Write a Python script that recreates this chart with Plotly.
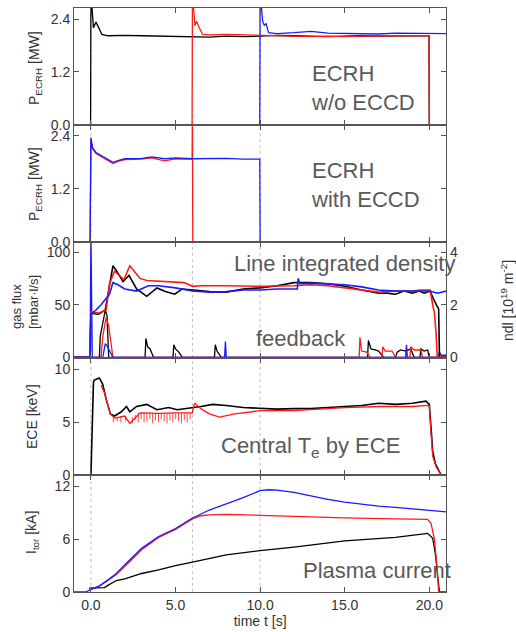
import plotly.graph_objects as go
from plotly.subplots import make_subplots

# ---------------- data ----------------
# Panel 1: ECRH w/o ECCD, P_ECRH [MW]
p1_black_t = [-1, -0.02, 0.0, 0.15, 0.3, 0.45, 0.65, 1.0, 2.0, 3.0, 4.0, 5.0, 6.0, 7.0, 8.0, 9.0, 10.0, 11.0, 12.0, 13.0, 14.0, 15.0, 16.0, 17.0, 18.0, 19.0, 19.98, 20.0, 21.0]
p1_black = [0, 0, 3.0, 2.2, 2.33, 2.2, 2.05, 2.02, 2.03, 2.02, 2.01, 2.0, 2.0, 1.99, 2.01, 2.0, 2.01, 2.03, 2.02, 2.01, 2.0, 2.01, 2.02, 2.01, 2.02, 2.02, 2.02, 0, 0]
p1_red_t = [-1, 5.98, 6.0, 6.15, 6.25, 6.4, 6.6, 7.0, 8.0, 9.0, 10.0, 11.0, 12.0, 13.0, 14.0, 15.0, 16.0, 17.0, 18.0, 19.0, 19.98, 20.0, 21.0]
p1_red = [0, 0, 3.0, 2.25, 2.35, 2.2, 2.05, 2.04, 2.05, 2.04, 2.03, 2.02, 2.01, 2.0, 2.01, 2.0, 2.01, 2.02, 2.02, 2.02, 2.02, 0, 0]
p1_blue_t = [-1, 9.98, 10.0, 10.15, 10.25, 10.35, 10.5, 11.0, 12.0, 13.0, 14.0, 15.0, 16.0, 17.0, 18.0, 19.0, 20.0, 21.0]
p1_blue = [0, 0, 3.0, 2.35, 2.25, 2.3, 2.09, 2.07, 2.09, 2.12, 2.08, 2.07, 2.07, 2.06, 2.08, 2.08, 2.07, 2.07]

# Panel 2: ECRH with ECCD, P_ECRH [MW]
p2_black_t = [-1, 21]
p2_black = [0, 0]
p2_red_t = [-1, -0.05, 0.0, 0.1, 0.3, 0.6, 1.0, 1.3, 1.6, 2.0, 3.0, 3.6, 4.35, 5.0, 5.98, 6.0, 6.02, 21.0]
p2_red = [0, 0, 2.3, 2.1, 2.0, 1.93, 1.84, 1.77, 1.82, 1.86, 1.87, 1.9, 1.83, 1.88, 1.87, 3.0, 0, 0]
p2_blue_t = [-1, -0.05, 0.0, 0.1, 0.3, 0.6, 1.0, 1.3, 1.6, 2.0, 3.0, 3.6, 4.35, 5.0, 6.0, 7.0, 8.0, 9.0, 9.98, 10.0, 21.0]
p2_blue = [0, 0, 2.36, 2.13, 2.02, 1.95, 1.86, 1.8, 1.84, 1.88, 1.89, 1.92, 1.88, 1.9, 1.88, 1.88, 1.89, 1.87, 1.87, 0, 0]

# Panel 3: gas flux [mbar l/s] (left) and ndl [1e19 m^-2] (right)
ndl_black_t = [-1, -0.05, 0.0, 0.45, 0.85, 1.0, 1.3, 1.5, 1.9, 2.25, 2.7, 3.3, 3.9, 4.4, 4.95, 5.4, 6.4, 7.0, 8.0, 9.0, 10.0, 11.0, 12.0, 13.0, 14.0, 15.0, 16.0, 17.0, 17.5, 18.0, 18.5, 19.0, 19.4, 19.7, 20.05, 20.2, 20.45, 20.55, 20.6, 21.0]
ndl_black = [0, 0, 1.68, 1.64, 1.8, 2.4, 3.48, 3.3, 2.88, 3.12, 2.6, 2.32, 2.64, 2.5, 2.4, 2.6, 2.52, 2.5, 2.48, 2.6, 2.64, 2.72, 2.84, 2.84, 2.8, 2.7, 2.56, 2.44, 2.44, 2.4, 2.52, 2.44, 2.52, 2.44, 2.52, 2.28, 1.96, 1.84, 0, 0]
ndl_red_t = [-1, -0.05, 0.0, 0.45, 0.9, 1.1, 1.4, 1.95, 2.3, 2.9, 3.3, 4.5, 5.5, 6.0, 6.5, 8.0, 10.0, 12.0, 13.0, 14.0, 15.0, 16.0, 17.0, 18.0, 19.0, 19.5, 20.05, 20.2, 20.3, 20.4, 20.47, 21.0]
ndl_red = [0, 0, 1.72, 1.68, 1.8, 2.8, 3.28, 2.96, 3.48, 3.0, 2.92, 2.88, 2.84, 2.7, 2.72, 2.72, 2.7, 2.72, 2.76, 2.72, 2.64, 2.56, 2.48, 2.52, 2.52, 2.56, 2.56, 2.0, 1.7, 0.9, 0, 0]
ndl_blue_t = [-1, -0.05, 0.0, 0.3, 0.6, 0.9, 1.1, 1.3, 1.6, 2.0, 2.7, 3.4, 4.0, 5.0, 6.0, 7.0, 8.0, 9.0, 10.0, 11.0, 12.2, 12.25, 12.35, 13.0, 14.0, 15.0, 16.0, 17.0, 18.0, 19.0, 20.0, 20.5, 21.0]
ndl_blue = [0, 0, 1.64, 1.8, 2.0, 2.24, 2.4, 2.84, 2.76, 2.6, 2.52, 2.72, 2.72, 2.64, 2.52, 2.48, 2.5, 2.56, 2.56, 2.6, 2.6, 3.0, 2.8, 2.82, 2.8, 2.76, 2.68, 2.56, 2.52, 2.52, 2.52, 2.44, 2.52]

gas_black_t = [-1, 0.5, 0.55, 0.85, 0.95, 1.05, 3.2, 3.25, 3.35, 3.5, 3.6, 3.7, 4.85, 4.9, 5.0, 5.2, 5.4, 7.3, 7.35, 7.45, 7.7, 16.35, 16.4, 16.55, 16.8, 17.0, 17.3, 18.0, 18.1, 18.3, 18.6, 18.9, 19.1, 19.45, 19.5, 19.7, 19.9, 20.0, 21.0]
gas_black = [0, 0, 20, 45, 40, 0, 0, 18, 10, 8, 4, 0, 0, 12, 8, 5, 0, 0, 12, 6, 0, 0, 16, 8, 7, 6, 0, 0, 5, 7, 6, 8, 0, 0, 8, 6, 7, 0, 0]
gas_red_t = [-1, 0.6, 0.7, 0.9, 1.05, 1.3, 15.85, 15.9, 16.0, 16.3, 16.5, 17.2, 17.25, 17.4, 17.8, 18.0, 18.85, 18.9, 19.1, 19.5, 19.6, 21.0]
gas_red = [0, 0, 20, 38, 30, 0, 0, 19, 6, 5, 0, 0, 10, 6, 6, 0, 0, 10, 7, 7, 0, 0]
gas_blue_t = [-1, -0.05, 0.0, 0.08, 0.7, 0.85, 0.95, 1.2, 1.3, 7.9, 7.95, 8.0, 18.6, 18.65, 18.7, 20.55, 20.6, 20.7, 21.0]
gas_blue = [0, 0, 120, 0, 0, 13, 11, 2, 0, 0, 15, 0, 0, 12, 0, 0, 5, 2, 2]

# Panel 4: ECE [keV]
ece_blue_t = [-1, 21]
ece_blue = [0, 0]
ece_black_t = [-0.02, 0.0, 0.15, 0.2, 0.5, 0.7, 0.9, 1.15, 1.4, 1.8, 2.1, 2.3, 2.7, 3.3, 3.9, 4.6, 5.1, 6.0, 6.5, 7.2, 8.0, 9.0, 10.0, 11.0, 12.0, 13.0, 14.0, 15.0, 16.0, 17.0, 18.0, 19.0, 19.8, 20.0, 20.1, 20.2, 20.35, 20.5, 20.7, 21.0]
ece_black = [0, 0, 8.8, 9.0, 9.2, 8.6, 7.2, 5.8, 5.6, 6.0, 6.5, 6.0, 6.5, 6.7, 6.2, 6.4, 6.2, 6.35, 6.5, 6.7, 6.6, 6.4, 6.3, 6.25, 6.3, 6.3, 6.4, 6.5, 6.6, 6.8, 6.7, 6.8, 7.0, 6.7, 4.5, 2.3, 1.1, 0.65, 0, 0]
ece_red_t = [0.6, 0.8, 1.15, 1.4, 2.0, 2.3, 2.9, 4.0, 5.0, 6.0, 6.05, 6.15, 6.5, 7.0, 7.6, 8.5, 10.0, 12.0, 13.0, 15.0, 17.0, 19.0, 19.9, 20.0, 20.1, 20.2, 20.4, 20.6, 20.7, 21.0]
ece_red = [8.5, 7.8, 5.8, 5.4, 5.6, 4.9, 5.9, 5.85, 5.9, 5.9, 6.4, 6.8, 6.3, 5.8, 5.5, 5.8, 6.1, 6.1, 6.2, 6.4, 6.5, 6.5, 6.6, 6.5, 4.0, 1.8, 0.8, 0.2, 0, 0]
# sawtooth crashes on the red ECE trace
saw_t = [1.32, 1.55, 1.77, 2.05, 2.45, 2.62, 2.8, 2.97, 3.14, 3.31, 3.48, 3.65, 3.82, 3.99, 4.16, 4.33, 4.5, 4.67, 4.84, 5.01, 5.18, 5.35, 5.52, 5.69, 5.86]
saw_top = [5.5, 5.5, 5.6, 5.6, 5.5, 5.7, 5.9, 5.9, 5.9, 5.9, 5.9, 5.9, 5.85, 5.85, 5.85, 5.85, 5.85, 5.85, 5.9, 5.9, 5.9, 5.9, 5.9, 5.9, 5.9]
saw_dip = [5.0, 5.1, 5.0, 5.1, 4.9, 5.2, 5.0, 5.3, 5.0, 5.1, 5.3, 4.9, 5.2, 5.0, 5.3, 5.1, 4.9, 5.2, 5.0, 5.3, 5.1, 4.9, 5.2, 5.0, 5.3]

# Panel 5: I_tor [kA]
itor_black_t = [-0.1, 0.8, 1.0, 1.5, 2.0, 3.0, 4.0, 5.0, 6.0, 7.0, 8.0, 10.0, 12.0, 15.0, 18.0, 19.9, 20.2, 20.35, 20.5, 20.6, 21.0]
itor_black = [0.45, 0.5, 0.75, 1.3, 1.5, 2.1, 2.5, 3.0, 3.4, 3.8, 4.2, 4.7, 5.1, 5.8, 6.2, 6.65, 6.1, 4.4, 2.1, 0, 0]
itor_red_t = [-0.1, 0.0, 0.5, 1.0, 1.5, 2.0, 3.0, 4.0, 5.0, 6.0, 6.5, 7.0, 8.0, 10.0, 12.0, 15.0, 18.0, 19.9, 20.1, 20.3, 20.45, 20.55, 21.0]
itor_red = [0.3, 0.3, 0.65, 1.35, 2.0, 2.9, 4.8, 6.2, 7.1, 8.3, 8.65, 8.75, 8.8, 8.7, 8.55, 8.4, 8.3, 8.25, 7.8, 6.0, 3.0, 0, 0]
itor_blue_t = [-1, -0.3, 0.0, 0.5, 1.0, 1.5, 2.0, 3.0, 4.0, 5.0, 6.0, 7.0, 8.0, 9.0, 10.0, 10.5, 11.0, 12.0, 13.0, 14.0, 15.0, 16.0, 17.0, 18.0, 19.0, 20.0, 21.0]
itor_blue = [0, 0, 0.3, 0.7, 1.35, 2.1, 3.1, 4.95, 6.3, 7.2, 8.4, 9.3, 10.0, 10.7, 11.5, 11.6, 11.55, 11.3, 10.9, 10.5, 10.2, 9.95, 9.75, 9.6, 9.45, 9.3, 9.1]

# tick labels
x_ticks = [0, 5, 10, 15, 20]
x_ticktext = ["0.0", "5.0", "10.0", "15.0", "20.0"]
event_times = [0, 6, 10]

# ---------------- figure ----------------
BLACK = "#000000"
RED = "#ff1a1a"
BLUE = "#1a1aff"
LW = 1.3
FONT = "Liberation Sans, Arial, Helvetica, sans-serif"

fig = make_subplots(rows=5, cols=1, shared_xaxes=True, vertical_spacing=0,
                    specs=[[{}], [{}], [{"secondary_y": True}], [{}], [{}]])

def line(x, y, color, row, sec=None, width=LW):
    kw = dict(row=row, col=1)
    if sec is not None:
        kw["secondary_y"] = sec
    fig.add_trace(go.Scatter(x=x, y=y, mode="lines", line=dict(color=color, width=width),
                             hoverinfo="skip"), **kw)

line(p1_black_t, p1_black, BLACK, 1)
line(p1_red_t, p1_red, RED, 1)
line(p1_blue_t, p1_blue, BLUE, 1)

line(p2_black_t, p2_black, BLACK, 2)
line(p2_red_t, p2_red, RED, 2)
line(p2_blue_t, p2_blue, BLUE, 2)

line(gas_black_t, gas_black, BLACK, 3, sec=False)
line(gas_red_t, gas_red, RED, 3, sec=False)
line(gas_blue_t, gas_blue, BLUE, 3, sec=False)
line(ndl_black_t, ndl_black, BLACK, 3, sec=True, width=1.6)
line(ndl_red_t, ndl_red, RED, 3, sec=True, width=1.6)
line(ndl_blue_t, ndl_blue, BLUE, 3, sec=True, width=1.6)

line(ece_blue_t, ece_blue, "#1f1f99", 4)
line(ece_black_t, ece_black, BLACK, 4, width=1.6)
line(ece_red_t, ece_red, RED, 4)
saw_x, saw_y = [], []
for t, a, b in zip(saw_t, saw_top, saw_dip):
    saw_x += [t, t, None]
    saw_y += [a, b, None]
line(saw_x, saw_y, RED, 4, width=0.8)

line(itor_black_t, itor_black, BLACK, 5)
line(itor_red_t, itor_red, RED, 5)
line(itor_blue_t, itor_blue, BLUE, 5)

axis_common = dict(showline=True, linecolor="#555555", linewidth=1, mirror="ticks",
                   ticks="inside", ticklen=5, tickcolor="#555555", showgrid=False,
                   zeroline=False, tickfont=dict(family=FONT, size=14, color="#333333"))

for r in range(1, 6):
    fig.update_xaxes(range=[-1, 21], tickvals=x_ticks, ticktext=x_ticktext,
                     showticklabels=(r == 5), row=r, col=1, **axis_common)

fig.update_xaxes(title=dict(text="time t [s]", font=dict(family=FONT, size=14, color="#333333"),
                            standoff=0), row=5, col=1)

fig.update_yaxes(range=[0, 2.65], tickvals=[0, 1.2, 2.4], ticktext=["0.0", "1.2", "2.4"], row=1, col=1, **axis_common)
fig.update_yaxes(range=[0, 2.65], tickvals=[0, 1.2, 2.4], ticktext=["0.0", "1.2", "2.4"], row=2, col=1, **axis_common)
fig.update_yaxes(range=[-1, 110], tickvals=[0, 50, 100], ticktext=["0", "50", "100"], row=3, col=1,
                 secondary_y=False, **axis_common)
sec_axis = dict(axis_common)
sec_axis["mirror"] = False
fig.update_yaxes(range=[-0.04, 4.4], tickvals=[0, 2, 4], ticktext=["0", "2", "4"], row=3, col=1,
                 secondary_y=True, **sec_axis)
fig.update_yaxes(range=[0, 11.05], tickvals=[0, 5, 10], ticktext=["0", "5", "10"], row=4, col=1, **axis_common)
fig.update_yaxes(range=[0, 13.25], tickvals=[0, 6, 12], ticktext=["0", "6", "12"], row=5, col=1, **axis_common)

# vertical event markers
for t in event_times:
    fig.add_shape(type="line", xref="x", yref="paper", x0=t, x1=t, y0=0, y1=1,
                  line=dict(color="#c0c0c0", width=1, dash="dot"), layer="below")

W, H = 516, 632
ML, MR, MT, MB = 74, 46, 8, 40
PW, PH = W - ML - MR, H - MT - MB

def px(x):
    return (x - ML) / PW

def py(y):
    return 1 - (y - MT) / PH

ann = []
TXT = "#5a5a5a"
def add_text(text, x, y, size=22, anchor="left", angle=0, color=TXT):
    ann.append(dict(text=text, x=px(x), y=py(y), xref="paper", yref="paper", showarrow=False,
                    xanchor=anchor, yanchor="middle", textangle=angle,
                    font=dict(family=FONT, size=size, color=color), align="left"))

add_text("ECRH<br>w/o ECCD", 309, 88)
add_text("ECRH<br>with ECCD", 309, 185)
add_text("Line integrated density", 232, 263)
add_text("feedback", 254, 338)
add_text("Central T<sub>e</sub> by ECE", 219, 447)
add_text("Plasma current", 301, 570)

# axis titles
add_text("P<sub>ECRH</sub> [MW]", 35, 68, size=14, anchor="center", angle=-90, color="#333333")
add_text("P<sub>ECRH</sub> [MW]", 35, 184, size=14, anchor="center", angle=-90, color="#333333")
add_text("gas flux<br>[mbar·l/s]", 25, 302, size=13, anchor="center", angle=-90, color="#333333")
add_text("ECE [keV]", 32, 417, size=14, anchor="center", angle=-90, color="#333333")
add_text("I<sub>tor</sub> [kA]", 32, 533, size=14, anchor="center", angle=-90, color="#333333")
add_text("ndl [10<sup>19</sup> m<sup>-2</sup>]", 507, 301, size=14, anchor="center", angle=-90, color="#333333")

fig.update_layout(width=W, height=H, margin=dict(l=ML, r=MR, t=MT, b=MB),
                  paper_bgcolor="white", plot_bgcolor="white", showlegend=False,
                  annotations=ann, font=dict(family=FONT))

fig.write_html("out.html")
